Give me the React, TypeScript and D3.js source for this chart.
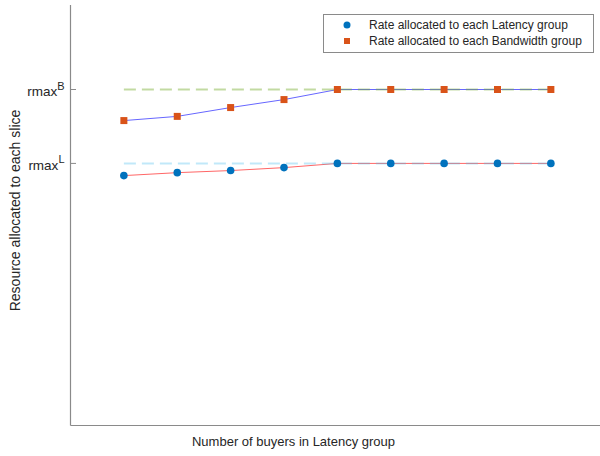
import React from "react";
import * as d3 from "d3";

const buyers = [1, 2, 3, 4, 5, 6, 7, 8, 9];
const latencyRate = [5.95, 6.02, 6.07, 6.14, 6.24, 6.24, 6.24, 6.24, 6.24];
const bandwidthRate = [7.26, 7.36, 7.57, 7.76, 8.0, 8.0, 8.0, 8.0, 8.0];
const rmaxL = 6.24;
const rmaxB = 8.0;
const yTicks = [
  { v: rmaxL, base: "rmax", sup: "L" },
  { v: rmaxB, base: "rmax", sup: "B" },
];
const legendLabels = [
  "Rate allocated to each Latency group",
  "Rate allocated to each Bandwidth group",
];

const W = 600;
const H = 456;
const FONT = "'Liberation Sans', Arial, Helvetica, sans-serif";
const TEXT = "#262626";

export default function App() {
  const left = 70.5;
  const bottom = 425.5;
  const top = 5;
  const x = d3.scaleLinear().domain([0, 10]).range([left, left + 533.75]);
  const y = d3.scaleLinear().domain([0, 10]).range([bottom, bottom - 420]);

  const line = d3
    .line<number>()
    .x((_, i) => x(buyers[i]))
    .y((d) => y(d));

  const xMin = x(buyers[0]);
  const xMax = x(buyers[buyers.length - 1]);

  return (
    <svg
      width={W}
      height={H}
      style={{ position: "absolute", left: 0, top: 0, background: "#fff" }}
      fontFamily={FONT}
    >
      <rect x={0} y={0} width={W} height={H} fill="#fff" />
      {/* axes */}
      <line x1={left} x2={left} y1={top} y2={bottom} stroke="#8a8a8a" strokeWidth={1.2} />
      <line x1={left} x2={W} y1={bottom} y2={bottom} stroke="#8a8a8a" strokeWidth={1.2} />
      {yTicks.map((t) => (
        <g key={t.sup}>
          <line x1={left} x2={left + 5.5} y1={y(t.v)} y2={y(t.v)} stroke="#8a8a8a" strokeWidth={1} />
          <text
            x={left - 6}
            y={y(t.v) + 6.5}
            textAnchor="end"
            fontSize={13.5}
            fill={TEXT}
          >
            {t.base}
            <tspan dy={-6.5} fontSize={11}>
              {t.sup}
            </tspan>
          </text>
        </g>
      ))}

      {/* data lines */}
      <path d={line(bandwidthRate) || ""} fill="none" stroke="#0000ff" strokeOpacity={0.6} strokeWidth={1} />
      <path d={line(latencyRate) || ""} fill="none" stroke="#ff0000" strokeOpacity={0.6} strokeWidth={1} />

      {/* reference dashed lines */}
      <line
        x1={xMin}
        x2={xMax}
        y1={y(rmaxB)}
        y2={y(rmaxB)}
        stroke="#77ac30"
        strokeOpacity={0.45}
        strokeWidth={2}
        strokeDasharray="12,6"
      />
      <line
        x1={xMin}
        x2={xMax}
        y1={y(rmaxL)}
        y2={y(rmaxL)}
        stroke="#4dbeee"
        strokeOpacity={0.35}
        strokeWidth={2}
        strokeDasharray="12,6"
      />

      {/* markers */}
      {latencyRate.map((v, i) => (
        <circle key={"c" + i} cx={x(buyers[i])} cy={y(v)} r={3.8} fill="#0072bd" />
      ))}
      {bandwidthRate.map((v, i) => (
        <rect
          key={"s" + i}
          x={x(buyers[i]) - 3.5}
          y={y(v) - 3.5}
          width={7}
          height={7}
          fill="#d95319"
        />
      ))}

      {/* legend */}
      <rect x={323.5} y={14.5} width={270} height={38} fill="#fff" stroke="#8a8a8a" strokeWidth={1} />
      <circle cx={347} cy={25} r={3.5} fill="#0072bd" />
      <rect x={344} y={38} width={6} height={6} fill="#d95319" />
      <text x={369} y={28.5} fontSize={12} fill={TEXT}>
        {legendLabels[0]}
      </text>
      <text x={369} y={44.5} fontSize={12} fill={TEXT}>
        {legendLabels[1]}
      </text>

      {/* axis labels */}
      <text x={293.5} y={446} textAnchor="middle" fontSize={13} fill={TEXT}>
        Number of buyers in Latency group
      </text>
      <text
        transform={`translate(20,210.5) rotate(-90)`}
        textAnchor="middle"
        fontSize={14}
        fill={TEXT}
      >
        Resource allocated to each slice
      </text>
    </svg>
  );
}
